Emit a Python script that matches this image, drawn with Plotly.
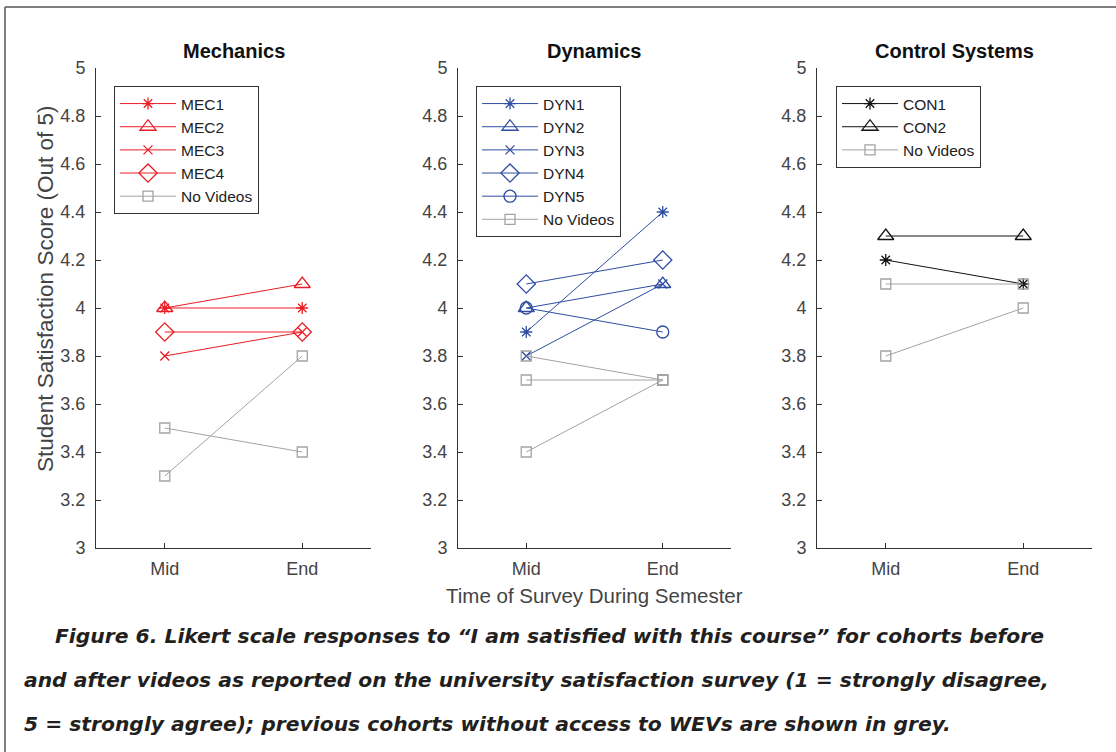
import plotly.graph_objects as go

# Survey time points
times = ["Mid", "End"]
time_pos = [1, 2]

# Mechanics cohorts (satisfaction score, out of 5)
mec1 = [4.0, 4.0]
mec2 = [4.0, 4.1]
mec3 = [3.8, 3.9]
mec4 = [3.9, 3.9]
mec_novid_a = [3.5, 3.4]
mec_novid_b = [3.3, 3.8]

# Dynamics cohorts
dyn1 = [3.9, 4.4]
dyn2 = [4.0, 4.1]
dyn3 = [3.8, 4.1]
dyn4 = [4.1, 4.2]
dyn5 = [4.0, 3.9]
dyn_novid_a = [3.8, 3.7]
dyn_novid_b = [3.7, 3.7]
dyn_novid_c = [3.4, 3.7]

# Control Systems cohorts
con1 = [4.2, 4.1]
con2 = [4.3, 4.3]
con_novid_a = [4.1, 4.1]
con_novid_b = [3.8, 4.0]

y_ticks = [3, 3.2, 3.4, 3.6, 3.8, 4, 4.2, 4.4, 4.6, 4.8, 5]
y_ticktext = ["3", "3.2", "3.4", "3.6", "3.8", "4", "4.2", "4.4", "4.6", "4.8", "5"]

panel_titles = ["Mechanics", "Dynamics", "Control Systems"]
caption_lines = [
    "Figure 6. Likert scale responses to \u201cI am satisfied with this course\u201d for cohorts before",
    "and after videos as reported on the university satisfaction survey (1 = strongly disagree,",
    "5 = strongly agree); previous cohorts without access to WEVs are shown in grey.",
]

W, H = 1116, 752
RED = "#ec1c24"
BLUE = "#2f4da0"
BLACK = "#111111"
GREY = "#a3a3a3"
AXIS = "#333333"
LABEL = "#444444"
FONT = "Liberation Sans, Arial, sans-serif"

# axis frames in pixels: (left, right) for each panel; shared top/bottom
panels_px = [(96, 371), (458, 731), (817, 1092)]
top_px, bottom_px = 68, 548

fig = go.Figure()


def add_series(ax, legend, name, values, color, symbol, size, show=True, lw=1):
    fig.add_trace(go.Scatter(
        x=time_pos, y=values, name=name, mode="lines+markers",
        line=dict(color=color, width=lw),
        marker=dict(symbol=symbol, size=size, color=color,
                    line=dict(color=color, width=1.3)),
        xaxis="x" + ("" if ax == 1 else str(ax)),
        yaxis="y" + ("" if ax == 1 else str(ax)),
        legend=legend, showlegend=show,
    ))


# Mechanics
add_series(1, "legend", "MEC1", mec1, RED, "asterisk-open", 10)
add_series(1, "legend", "MEC2", mec2, RED, "triangle-up-open", 14)
add_series(1, "legend", "MEC3", mec3, RED, "x-thin-open", 9)
add_series(1, "legend", "MEC4", mec4, RED, "diamond-open", 14)
add_series(1, "legend", "No Videos", mec_novid_a, GREY, "square-open", 10)
add_series(1, "legend", "No Videos", mec_novid_b, GREY, "square-open", 10, show=False)

# Dynamics
add_series(2, "legend2", "DYN1", dyn1, BLUE, "asterisk-open", 10)
add_series(2, "legend2", "DYN2", dyn2, BLUE, "triangle-up-open", 14)
add_series(2, "legend2", "DYN3", dyn3, BLUE, "x-thin-open", 9)
add_series(2, "legend2", "DYN4", dyn4, BLUE, "diamond-open", 14)
add_series(2, "legend2", "DYN5", dyn5, BLUE, "circle-open", 12)
add_series(2, "legend2", "No Videos", dyn_novid_a, GREY, "square-open", 10)
add_series(2, "legend2", "No Videos", dyn_novid_b, GREY, "square-open", 10, show=False)
add_series(2, "legend2", "No Videos", dyn_novid_c, GREY, "square-open", 10, show=False)

# Control Systems
add_series(3, "legend3", "CON1", con1, BLACK, "asterisk-open", 10)
add_series(3, "legend3", "CON2", con2, BLACK, "triangle-up-open", 14)
add_series(3, "legend3", "No Videos", con_novid_a, GREY, "square-open", 10)
add_series(3, "legend3", "No Videos", con_novid_b, GREY, "square-open", 10, show=False)

y_dom = [1 - bottom_px / H, 1 - top_px / H]
layout = dict(
    width=W, height=H,
    margin=dict(l=0, r=0, t=0, b=0, pad=0, autoexpand=False),
    paper_bgcolor="white", plot_bgcolor="white",
    font=dict(family=FONT, color=AXIS, size=16),
    annotations=[], shapes=[],
)

for i, (l, r) in enumerate(panels_px, start=1):
    sfx = "" if i == 1 else str(i)
    layout["xaxis" + sfx] = dict(
        domain=[l / W, r / W], anchor="y" + sfx, range=[0.5, 2.5],
        tickvals=time_pos, ticktext=times, ticks="inside", ticklen=5,
        tickcolor=AXIS, showline=True, linecolor=AXIS, linewidth=1,
        showgrid=False, zeroline=False, ticklabelstandoff=4, automargin=False,
        tickfont=dict(size=18, color=LABEL),
    )
    layout["yaxis" + sfx] = dict(
        domain=y_dom, anchor="x" + sfx, range=[3, 5],
        tickvals=y_ticks, ticktext=y_ticktext, ticks="inside", ticklen=5,
        tickcolor=AXIS, showline=True, linecolor=AXIS, linewidth=1,
        showgrid=False, zeroline=False, ticklabelstandoff=6, automargin=False,
        tickfont=dict(size=18, color=LABEL),
    )
    layout["annotations"].append(dict(
        text="<b>" + panel_titles[i - 1] + "</b>", x=(l + r) / 2 / W, y=1 - 51 / H,
        xref="paper", yref="paper", showarrow=False, xanchor="center", yanchor="middle",
        font=dict(size=20, color="#111111", family=FONT),
    ))

legend_common = dict(
    bgcolor="white", bordercolor=AXIS, borderwidth=1,
    font=dict(size=15.5, color="#222222", family=FONT),
    xanchor="left", yanchor="top", xref="paper", yref="paper",
    itemclick=False, itemdoubleclick=False, itemwidth=56,
)
layout["legend"] = dict(legend_common, x=114 / W, y=1 - 86 / H)
layout["legend2"] = dict(legend_common, x=476 / W, y=1 - 86 / H)
layout["legend3"] = dict(legend_common, x=836 / W, y=1 - 86 / H)

# axis titles
layout["annotations"].append(dict(
    text="Student Satisfaction Score (Out of 5)", x=45 / W, y=1 - 289 / H,
    xref="paper", yref="paper", showarrow=False, textangle=-90,
    xanchor="center", yanchor="middle", font=dict(size=22.5, color=LABEL, family=FONT),
))
layout["annotations"].append(dict(
    text="Time of Survey During Semester", x=594 / W, y=1 - 595 / H,
    xref="paper", yref="paper", showarrow=False,
    xanchor="center", yanchor="middle", font=dict(size=20.5, color=LABEL, family=FONT),
))

# caption
cap_pos = [(53, 636), (22, 680), (22, 724)]
for line, (cx, cy) in zip(caption_lines, cap_pos):
    layout["annotations"].append(dict(
        text="<b><i>" + line + "</i></b>", x=cx / W, y=1 - cy / H,
        xref="paper", yref="paper", showarrow=False,
        xanchor="left", yanchor="middle",
        font=dict(size=20.3, color="#231f20", family="DejaVu Sans, sans-serif"),
    ))

# frame lines along top and left edges
layout["shapes"].append(dict(type="line", xref="paper", yref="paper",
                             x0=5 / W, x1=1, y0=1 - 7 / H, y1=1 - 7 / H,
                             line=dict(color="#555555", width=1.5)))
layout["shapes"].append(dict(type="line", xref="paper", yref="paper",
                             x0=5 / W, x1=5 / W, y0=0, y1=1 - 7 / H,
                             line=dict(color="#555555", width=1.5)))

fig.update_layout(**layout)

# pin the graph to the top-left corner of the page
pin_js = (
    "document.documentElement.style.margin='0px';"
    "document.body.style.margin='0px';"
    "document.body.style.overflow='hidden';"
    "var gd=document.getElementById('{plot_id}');"
    "gd.style.position='fixed';gd.style.top='0px';gd.style.left='0px';"
)
fig.write_html("out.html", post_script=pin_js)
